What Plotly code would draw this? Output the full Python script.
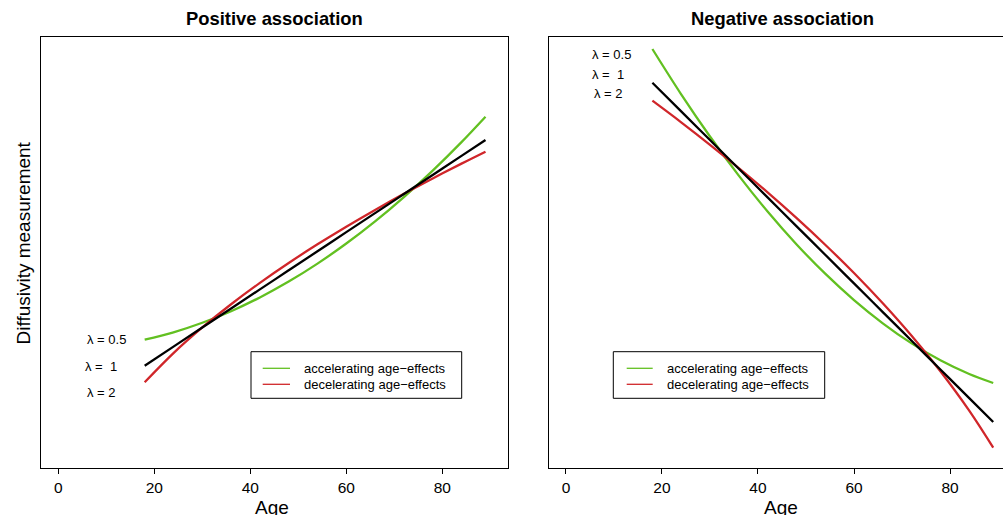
import plotly.graph_objects as go

# ---- data (y in arbitrary units, 0 = bottom of panel, 100 = top) ----
ages = [18, 24, 30, 36, 42, 48, 54, 60, 66, 72, 78, 84, 89]
pos_accel = [29.82, 31.53, 33.74, 36.43, 39.62, 43.29, 47.46, 52.12, 57.25, 62.89, 69.02, 75.63, 81.52]
pos_linear = [23.79, 28.21, 32.63, 37.06, 41.48, 45.90, 50.32, 54.75, 59.17, 63.59, 68.01, 72.43, 76.12]
pos_decel = [19.94, 26.70, 32.65, 38.04, 42.99, 47.60, 51.93, 56.02, 59.91, 63.64, 67.20, 70.64, 73.41]
neg_accel = [97.22, 86.71, 76.93, 67.87, 59.54, 51.96, 45.12, 39.00, 33.62, 28.96, 25.04, 21.86, 19.78]
neg_linear = [89.40, 82.76, 76.11, 69.46, 62.81, 56.16, 49.52, 42.87, 36.22, 29.57, 22.92, 16.27, 10.73]
neg_decel = [85.23, 80.22, 75.01, 69.60, 63.97, 58.06, 51.84, 45.28, 38.26, 30.72, 22.49, 13.36, 4.78]

x_ticks = [0, 20, 40, 60, 80]
panel_titles = ["Positive association", "Negative association"]
legend_labels = ["accelerating age\u2212effects", "decelerating age\u2212effects"]
lambda_labels = ["\u03bb = 0.5", "\u03bb = \u00a01", "\u03bb = 2"]
lambda_pos_left = [(10.0, 29.75), (8.9, 23.56), (9.0, 17.62)]
lambda_pos_right = [(9.42, 95.99), (8.71, 91.42), (8.9, 86.95)]

GREEN = "#62C021"
RED = "#D0262A"
BLACK = "#000000"
FONT = "Liberation Sans, Arial, Helvetica, sans-serif"

W, H = 1003, 515

def px(x):
    return x / W

def py(y):
    return 1 - y / H

fig = go.Figure()

for xa, ya, series in [("x", "y", (pos_accel, pos_decel, pos_linear)),
                       ("x2", "y2", (neg_accel, neg_decel, neg_linear))]:
    for vals, col in zip(series, (GREEN, RED, BLACK)):
        fig.add_trace(go.Scatter(x=ages, y=vals, mode="lines", xaxis=xa, yaxis=ya,
                                 line=dict(color=col, width=2.3, shape="spline"),
                                 showlegend=False, hoverinfo="skip"))

ydom = [py(468.3), py(37)]
common_x = dict(tickvals=x_ticks, ticks="outside", ticklen=5, tickwidth=1, tickcolor="black",
                showgrid=False, zeroline=False, showline=True, linecolor="black", linewidth=1,
                tickfont=dict(family=FONT, size=15.5, color="black"))
common_y = dict(showticklabels=False, ticks="", showgrid=False, zeroline=False,
                showline=True, linecolor="black", linewidth=1, range=[0, 100], domain=ydom)

fig.update_layout(
    width=W, height=H, margin=dict(l=0, r=0, t=0, b=0),
    paper_bgcolor="white", plot_bgcolor="white",
    xaxis=dict(domain=[px(41), px(508.3)], range=[-3.6, 93.75], anchor="y", mirror=True, **common_x),
    yaxis=dict(anchor="x", mirror=True, **common_y),
    xaxis2=dict(domain=[px(548.7), 1.0], range=[-3.6, 91.04], anchor="y2", mirror=True, **common_x),
    yaxis2=dict(anchor="x2", mirror=False, **common_y),
)

ann = []
# panel titles
for cx, t in zip([274.7, 782.3], panel_titles):
    ann.append(dict(x=px(cx), y=py(18), xref="paper", yref="paper", text="<b>%s</b>" % t,
                    showarrow=False, xanchor="center", yanchor="middle",
                    font=dict(family=FONT, size=18.4, color="black")))
# x-axis titles
for cx in [272, 780.5]:
    ann.append(dict(x=px(cx), y=py(495), xref="paper", yref="paper", text="Age",
                    showarrow=False, xanchor="center", yanchor="top",
                    font=dict(family=FONT, size=19, color="black")))
# y-axis title
ann.append(dict(x=px(22.5), y=py(243), xref="paper", yref="paper", text="Diffusivity measurement",
                showarrow=False, xanchor="center", yanchor="middle", textangle=-90,
                font=dict(family=FONT, size=19, color="black")))
# lambda labels
for (xr, yr), posl in [(("x", "y"), lambda_pos_left), (("x2", "y2"), lambda_pos_right)]:
    for lab, (lx, ly) in zip(lambda_labels, posl):
        ann.append(dict(x=lx, y=ly, xref=xr, yref=yr, text=lab, showarrow=False,
                        xanchor="center", yanchor="middle",
                        font=dict(family=FONT, size=13, color="black")))

shapes = []
# manual legends
for bx0, bx1, lx0, lx1, tx in [(251, 461.7, 262.7, 290, 302.3), (613.3, 824.7, 626.7, 652.7, 665.3)]:
    shapes.append(dict(type="rect", xref="paper", yref="paper", x0=px(bx0), x1=px(bx1),
                       y0=py(398.3), y1=py(351.7), line=dict(color="black", width=1),
                       fillcolor="white", layer="above"))
    for yy, col, lab in [(368.3, GREEN, legend_labels[0]), (384.3, RED, legend_labels[1])]:
        shapes.append(dict(type="line", xref="paper", yref="paper", x0=px(lx0), x1=px(lx1),
                           y0=py(yy), y1=py(yy), line=dict(color=col, width=1.3), layer="above"))
        ann.append(dict(x=px(tx), y=py(yy), xref="paper", yref="paper", text=lab, showarrow=False,
                        xanchor="left", yanchor="middle",
                        font=dict(family=FONT, size=13, color="black")))

fig.update_layout(annotations=ann, shapes=shapes)
fig.write_html("out.html")
